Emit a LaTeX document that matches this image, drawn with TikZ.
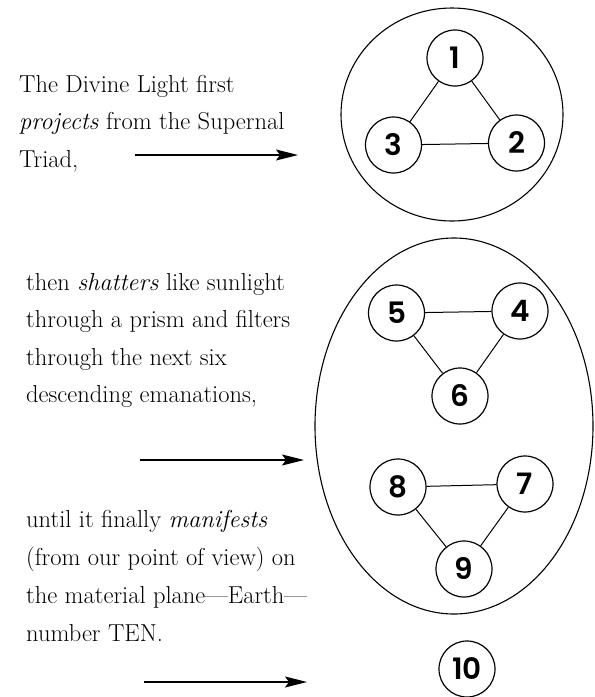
\documentclass[tikz,border=0pt]{standalone}
\usepackage{fontspec}
\newfontfamily\numfont{Poppins SemiBold}
\usetikzlibrary{arrows.meta,shapes.geometric}
\begin{document}
\begin{tikzpicture}[x=1pt,y=-1pt,
  txt/.style={anchor=base west, inner sep=0pt, font=\fontsize{24.5}{28}\selectfont},
  sef/.style={circle, draw, line width=1.2pt, minimum size=56pt, inner sep=0pt,
    font=\numfont\fontsize{29.5}{29.5}\selectfont},
  link/.style={line width=1pt},
  pointer/.style={line width=1.4pt, -{Stealth[length=22pt,width=11pt,inset=4pt]}},
  group/.style={ellipse, draw, line width=1.1pt, inner sep=0pt}]
\useasboundingbox (0,0) rectangle (595,697);

% enclosing shapes
\node[group, minimum width=222pt, minimum height=213pt] (upper) at (452,114.5) {};
\node[group, minimum width=278pt, minimum height=376pt] (middle) at (454,426) {};

% sephirot
\node[sef] (n1) at (455,58) {1};
\node[sef] (n2) at (516.5,143) {2};
\node[sef] (n3) at (393.5,145) {3};
\node[sef] (n4) at (520,311) {4};
\node[sef] (n5) at (396.5,313) {5};
\node[sef] (n6) at (460,396) {6};
\node[sef] (n7) at (525,484) {7};
\node[sef] (n8) at (398,487) {8};
\node[sef] (n9) at (464,569) {9};
\node[sef] (n10) at (467,669) {10};

\draw[link] (n1) -- (n3);
\draw[link] (n1) -- (n2);
\draw[link] (n3) -- (n2);
\draw[link] (n5) -- (n4);
\draw[link] (n5) -- (n6);
\draw[link] (n4) -- (n6);
\draw[link] (n8) -- (n7);
\draw[link] (n8) -- (n9);
\draw[link] (n7) -- (n9);

% text
\node[txt] (a1) at (19,92) {The Divine Light first};
\node[txt] (a2) at (19,129.5) {\textit{projects} from the Supernal};
\node[txt] (a3) at (19,167) {Triad,};

\node[txt] (b1) at (26,290) {then \textit{shatters} like sunlight};
\node[txt] (b2) at (26,327.5) {through a prism and filters};
\node[txt] (b3) at (26,365) {through the next six};
\node[txt] (b4) at (26,402.5) {descending emanations,};

\node[txt] (c1) at (26,527) {until it finally \textit{manifests}};
\node[txt] (c2) at (26,565) {(from our point of view) on};
\node[txt] (c3) at (26,603) {the material plane---Earth---};
\node[txt] (c4) at (26,641) {number TEN.};

% arrows
\coordinate (p1s) at (135,155);
\coordinate (p1e) at (298,155);
\coordinate (p2s) at (140,460);
\coordinate (p2e) at (304,460);
\coordinate (p3s) at (144,682);
\coordinate (p3e) at (307,682);
\draw[pointer] (p1s) -- (p1e);
\draw[pointer] (p2s) -- (p2e);
\draw[pointer] (p3s) -- (p3e);
\end{tikzpicture}
\end{document}
